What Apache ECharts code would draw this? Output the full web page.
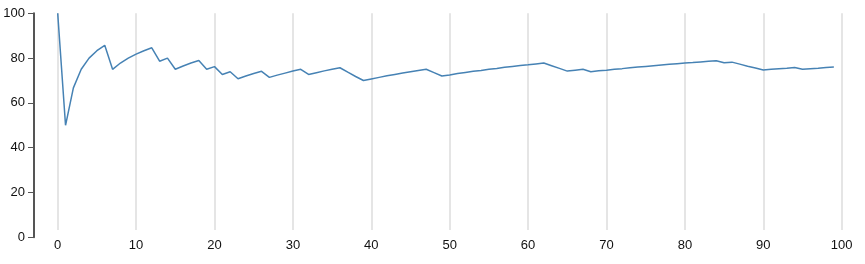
<!DOCTYPE html>
<html>
<head>
<meta charset="utf-8">
<script src="https://cdn.jsdelivr.net/npm/echarts@6/dist/echarts.min.js"></script>
<style>
html,body{margin:0;padding:0;background:#fff;}
#chart{width:865px;height:264px;}
</style>
</head>
<body>
<div id="chart"></div>
<script>
// x positions (trial index)
const xValues = [];
for (let i = 0; i < 100; i++) xValues.push(i);
// running percentage
const yValues = [
  100, 50, 66.7, 75, 80, 83.3, 85.7, 75, 77.8, 80,
  81.8, 83.3, 84.6, 78.6, 80, 75, 76.5, 77.8, 78.9, 75,
  76.2, 72.7, 73.9, 70.8, 72, 73.1, 74.1, 71.4, 72.4, 73.3,
  74.2, 75, 72.7, 73.5, 74.3, 75, 75.7, 73.7, 71.8, 70,
  70.7, 71.4, 72.1, 72.7, 73.3, 73.9, 74.5, 75, 73.5, 72,
  72.5, 73.1, 73.6, 74.1, 74.5, 75, 75.4, 75.9, 76.3, 76.7,
  77, 77.4, 77.8, 76.6, 75.4, 74.2, 74.6, 75, 73.9, 74.3,
  74.6, 75, 75.3, 75.7, 76, 76.3, 76.6, 76.9, 77.2, 77.5,
  77.8, 78, 78.3, 78.6, 78.8, 77.9, 78.2, 77.3, 76.4, 75.6,
  74.7, 75, 75.3, 75.5, 75.8, 75, 75.3, 75.5, 75.8, 76
];
const xTicks = [0, 10, 20, 30, 40, 50, 60, 70, 80, 90, 100];
const yTicks = [0, 20, 40, 60, 80, 100];

const seriesData = xValues.map((x, i) => [x, yValues[i]]);
const font = 'Liberation Sans, Arial, Helvetica, sans-serif';

const chart = echarts.init(document.getElementById('chart'), null, {renderer: 'canvas'});
chart.setOption({
  animation: false,
  grid: [
    {left: 57.7, right: 23.3, top: 13.3, bottom: 26.7},
    {left: 57.7, right: 23.3, top: 13.3, bottom: 34}
  ],
  xAxis: [
    {gridIndex: 0, type: 'value', min: xTicks[0], max: xTicks[xTicks.length - 1], show: false},
    {gridIndex: 1, type: 'value', min: xTicks[0], max: xTicks[xTicks.length - 1], interval: 10,
     axisLine: {show: false}, axisTick: {show: false},
     splitLine: {show: true, lineStyle: {color: '#dcdcdc', width: 1.5}},
     axisLabel: {margin: 9, color: '#111', fontSize: 13, fontFamily: font}}
  ],
  yAxis: [
    {gridIndex: 0, type: 'value', min: yTicks[0], max: yTicks[yTicks.length - 1], interval: 20,
     offset: 23.7,
     axisLine: {show: true, onZero: false, lineStyle: {color: '#555', width: 2}},
     axisTick: {show: true, inside: false, length: 6, lineStyle: {color: '#555', width: 1}},
     splitLine: {show: false},
     axisLabel: {margin: 9, color: '#111', fontSize: 13, fontFamily: font}},
    {gridIndex: 1, type: 'value', min: 0, max: 100, show: false}
  ],
  series: [{
    type: 'line',
    xAxisIndex: 0, yAxisIndex: 0,
    data: seriesData,
    showSymbol: false,
    symbol: 'none',
    lineStyle: {color: '#4682b4', width: 1.5},
    z: 5
  }]
});
</script>
</body>
</html>
